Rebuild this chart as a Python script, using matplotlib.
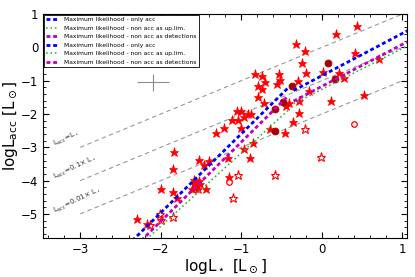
import matplotlib
matplotlib.use("Agg")
import matplotlib.pyplot as plt
import numpy as np
from matplotlib.ticker import MultipleLocator

# detections (filled stars)
star_x = [0.44, 0.18, -0.32, -0.21, 0.41, -0.25, 0.71, 0.01, -0.19, 0.21, 0.28,
          -0.83, -0.74, -0.53, -0.52, -0.71, -0.29, -0.79, -0.55, -0.74, -0.16,
          -0.79, 0.52, -0.28, 0.11, -0.72, -0.41, -0.44, -1.05, -1.00, -0.28,
          -0.92, -0.88, -0.96, -1.12, -1.04, -0.36, -1.00, -1.22, -0.64, -0.46,
          -1.31, -0.85, -0.97, -0.89, -1.16, -1.52, -1.40, -1.46, -1.83, -1.85,
          -1.15, -1.44, -2.00, -1.85, -1.80, -1.53, -1.57, -1.51, -1.55, -1.58,
          -1.54, -1.61, -1.59, -2.30, -2.17]
star_y = [0.64, 0.39, 0.09, -0.11, -0.18, -0.46, -0.36, -0.73, -0.78, -0.78, -0.93,
          -0.80, -0.85, -0.80, -0.98, -1.05, -1.02, -1.15, -1.10, -1.26, -1.30,
          -1.48, -1.42, -1.60, -1.60, -1.66, -1.68, -1.76, -1.91, -1.91, -1.98,
          -2.01, -2.01, -2.10, -2.18, -2.18, -2.23, -2.42, -2.42, -2.44, -2.58,
          -2.56, -2.87, -3.06, -3.31, -3.32, -3.37, -3.40, -3.53, -3.13, -3.66,
          -3.89, -4.26, -4.26, -4.34, -4.51, -4.00, -4.10, -4.10, -4.16, -4.23,
          -4.25, -4.25, -3.97, -5.14, -5.30]

# open stars
ostar_x = [-0.21, -0.01, -1.04, -0.58, -1.10, -2.01, -2.00, -1.85, -2.13, -1.56]
ostar_y = [-2.46, -3.29, -3.82, -3.82, -4.53, -5.01, -5.18, -5.09, -5.33, -4.18]

# open circles
ocirc_x = [0.40, -1.15]
ocirc_y = [-2.30, -4.03]

# dark filled circles
dcirc_x = [0.08, 0.17, -0.37, -0.48, -0.58, -0.58]
dcirc_y = [-0.46, -0.96, -1.16, -1.63, -1.86, -2.52]

# maximum likelihood fits  y = a + b*x
low_range = (-3.5, -0.42)
high_range = (-0.35, 1.1)
fit_names = ["only acc", "non acc as up.lim.", "non acc as detections"]
fit_colors = ["b", "#3cb43c", "m"]
low_a = [-0.224, -0.97, -0.463]
low_b = [2.37, 2.20, 2.38]
high_a = [-0.85, -1.26, -1.17]
high_b = [1.27, 1.23, 1.26]

# L_acc = f * L_star reference lines
ref_offsets = [0, -1, -2]
ref_labels = [r"L$_{\rm acc}$=L$_\star$", r"L$_{\rm acc}$=0.1$\times$ L$_\star$",
              r"L$_{\rm acc}$=0.01$\times$ L$_\star$"]

fig = plt.figure(figsize=(4.15, 2.77), dpi=100)
ax = fig.add_axes([0.104, 0.141, 0.877, 0.808])

xr = np.array([-3.0, 1.0])
for off, lab in zip(ref_offsets, ref_labels):
    ax.plot(xr, xr + off, color="0.6", lw=0.8, dashes=(4, 3), zorder=1)
    ax.text(-3.3, -3.05 + off, lab, fontsize=5, rotation=25,
            rotation_mode="anchor", ha="left", va="bottom", color="0.2")

# typical error cross
ax.errorbar([-2.1], [-1.05], xerr=0.2, yerr=0.25, fmt="none", ecolor="0.55",
            elinewidth=0.8, capsize=0)

ax.plot(star_x, star_y, ls="none", marker="*", ms=6.5, mfc="red", mec="red",
        mew=0.5, zorder=3)
ax.plot(ostar_x, ostar_y, ls="none", marker="*", ms=6.5, mfc="none", mec="red",
        mew=0.8, zorder=3)
ax.plot(ocirc_x, ocirc_y, ls="none", marker="o", ms=4, mfc="white", mec="red",
        mew=0.9, zorder=3)
ax.plot(dcirc_x, dcirc_y, ls="none", marker="o", ms=5, mfc="#a00000", mec="#c00000",
        mew=0.6, zorder=4)

for rng, aa, bb in [(low_range, low_a, low_b), (high_range, high_a, high_b)]:
    xx = np.array(rng)
    for name, c, a, b in zip(fit_names, fit_colors, aa, bb):
        if "up.lim" in name:
            ax.plot(xx, a + b * xx, color=c, lw=1.2, ls=":", zorder=5,
                    label="Maximum likelihood - " + name)
        else:
            ax.plot(xx, a + b * xx, color=c, lw=2, dashes=(1.4, 1.0), zorder=5,
                    label="Maximum likelihood - " + name)

ax.set_xlim(-3.46, 1.06)
ax.set_ylim(-5.72, 1.0)
ax.xaxis.set_major_locator(MultipleLocator(1))
ax.xaxis.set_minor_locator(MultipleLocator(0.2))
ax.yaxis.set_major_locator(MultipleLocator(1))
ax.yaxis.set_minor_locator(MultipleLocator(0.2))
ax.tick_params(which="both", direction="in", top=True, right=True, labelsize=8.5)
ax.tick_params(which="major", length=4, width=0.8)
ax.tick_params(which="minor", length=2, width=0.6)

ax.set_xlabel(r"logL$_\star$ [L$_\odot$]", fontsize=11, labelpad=1)
ax.set_ylabel(r"logL$_{\rm acc}$ [L$_\odot$]", fontsize=11, labelpad=1)

leg = ax.legend(loc="upper left", fontsize=4.3, frameon=True, fancybox=False,
                borderaxespad=0.1, handlelength=2.2, labelspacing=0.55,
                framealpha=1)
leg.get_frame().set_edgecolor("black")
leg.get_frame().set_linewidth(0.6)

fig.savefig("out.png", dpi=100)
